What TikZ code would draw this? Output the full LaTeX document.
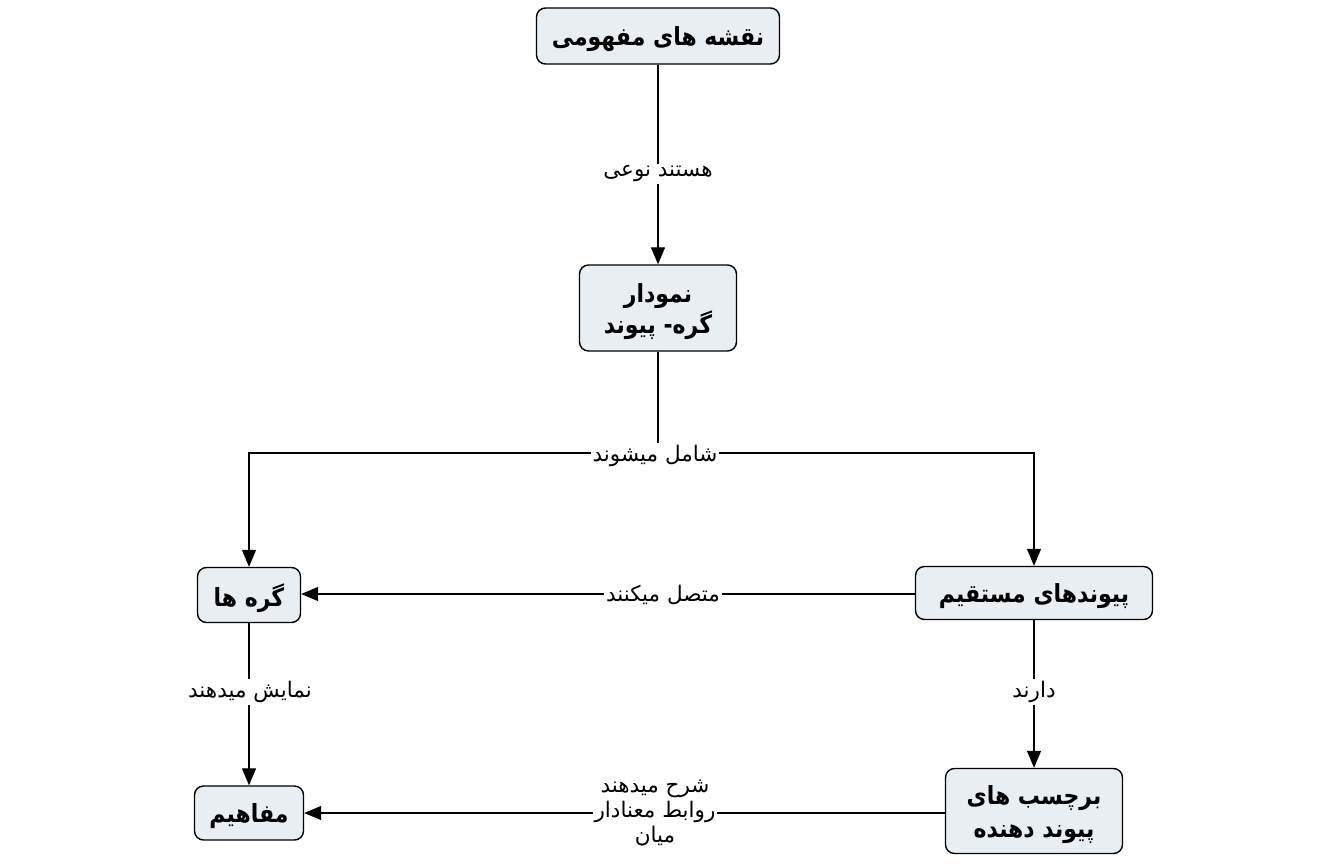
\documentclass[tikz,border=0pt]{standalone}
\usepackage{fontspec}
\usetikzlibrary{arrows.meta}
\TeXXeTstate=1
\newfontfamily\fab[Script=Arabic, FakeStretch=0.88]{DejaVu Sans}
\newfontfamily\fa[Script=Arabic]{DejaVu Sans}
\definecolor{boxfill}{HTML}{E9EEF3}
\tikzset{
  box/.style={draw=black, line width=1.4pt, rounded corners=9pt, fill=boxfill,
    align=center, inner sep=2pt, text depth=0pt, font=\fab\bfseries\fontsize{25}{31}\selectfont},
  lbl/.style={fill=white, inner sep=2pt, align=center, font=\fa\fontsize{21.5}{25}\selectfont},
  arr/.style={line width=1.3pt, -{Triangle[length=17pt,width=14pt]}},
  ln/.style={line width=1.3pt}
}
\begin{document}
\begin{tikzpicture}[x=1pt,y=-1pt]
\useasboundingbox (0,0) rectangle (1336,865);
\node[box, minimum width=243pt, minimum height=56pt] (top) at (658,36) {\beginR نقشه های مفهومی\endR};
\node[box, minimum width=157pt, minimum height=86pt] (nl) at (658,308) {\beginR نمودار\endR\\\beginR گره- پیوند\endR};
\node[box, minimum width=103pt, minimum height=55pt] (gh) at (249,595) {\beginR گره ها\endR};
\node[box, minimum width=237pt, minimum height=53pt] (pm) at (1034,593) {\beginR پیوندهای مستقیم\endR};
\node[box, minimum width=109pt, minimum height=54pt] (mf) at (249,813) {\beginR مفاهیم\endR};
\node[box, minimum width=177pt, minimum height=85pt, font=\fab\bfseries\fontsize{25}{33}\selectfont] (bd) at (1034,811) {\beginR برچسب های\endR\\\beginR پیوند دهنده\endR};
\coordinate (split) at (658,453);
\draw[arr] (top) -- (nl);
\draw[ln] (nl) -- (split);
\draw[arr] (split) -| (gh);
\draw[arr] (split) -| (pm);
\draw[arr] (pm.west |- 0,594) -- (gh.east |- 0,594);
\draw[arr] (gh) -- (mf);
\draw[arr] (pm) -- (bd);
\draw[arr] (bd.west |- 0,813) -- (mf.east |- 0,813);
\node[lbl] (l1) at (658,174) {\beginR هستند نوعی\endR};
\node[lbl] (l2) at (655,456) {\beginR شامل میشوند\endR};
\node[lbl] (l3) at (663,595) {\beginR متصل میکنند\endR};
\node[lbl] (l4) at (250,692) {\beginR نمایش میدهند\endR};
\node[lbl] (l5) at (1034,692) {\beginR دارند\endR};
\node[lbl] (l6) at (655,813) {\beginR شرح میدهند\endR\\\beginR روابط معنادار\endR\\\beginR میان\endR};
\end{tikzpicture}
\end{document}
